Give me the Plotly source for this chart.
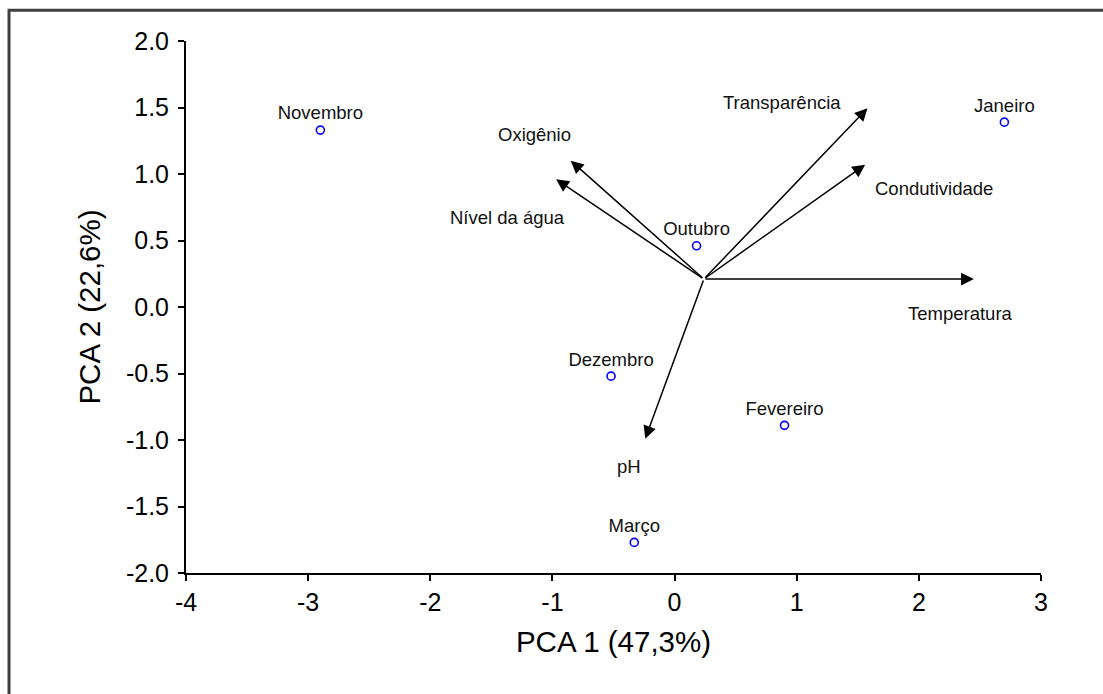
import plotly.graph_objects as go

# Sample scores (months)
months = ["Novembro", "Janeiro", "Outubro", "Dezembro", "Fevereiro", "Março"]
pc1_scores = [-2.90, 2.70, 0.18, -0.52, 0.90, -0.33]
pc2_scores = [1.33, 1.39, 0.46, -0.52, -0.89, -1.77]

# Variable vectors (loadings)
variables = ["Transparência", "Condutividade", "Temperatura", "Oxigênio", "Nível da água", "pH"]
origin = (0.24, 0.21)
vec_x = [1.58, 1.56, 2.45, -0.85, -0.97, -0.24]
vec_y = [1.495, 1.07, 0.21, 1.10, 0.96, -0.99]
label_x = [0.88, 2.12, 2.34, -1.15, -1.37, -0.37]
label_y = [1.54, 0.89, -0.05, 1.30, 0.67, -1.20]

x_ticks = [-4, -3, -2, -1, 0, 1, 2, 3]
x_ticktext = ["-4", "-3", "-2", "-1", "0", "1", "2", "3"]
y_ticks = [-2.0, -1.5, -1.0, -0.5, 0.0, 0.5, 1.0, 1.5, 2.0]
y_ticktext = ["-2.0", "-1.5", "-1.0", "-0.5", "0.0", "0.5", "1.0", "1.5", "2.0"]

FONT = "Arial, Liberation Sans, sans-serif"

fig = go.Figure()
fig.add_trace(go.Scatter(
    x=pc1_scores, y=pc2_scores, mode="markers+text",
    text=months, textposition="top center",
    textfont=dict(family=FONT, size=18.5, color="#111111"),
    marker=dict(symbol="circle-open", size=8, color="#0000ff", line=dict(width=1.6, color="#0000ff")),
    showlegend=False, hoverinfo="skip", cliponaxis=False,
))

annotations = []
for v, xv, yv in zip(variables, vec_x, vec_y):
    annotations.append(dict(
        x=xv, y=yv, ax=origin[0], ay=origin[1],
        xref="x", yref="y", axref="x", ayref="y",
        showarrow=True, arrowhead=2, arrowsize=1.7, arrowwidth=1.5,
        arrowcolor="#000000", text="",
    ))
for v, lx, ly in zip(variables, label_x, label_y):
    annotations.append(dict(
        x=lx, y=ly, xref="x", yref="y", text=v, showarrow=False,
        font=dict(family=FONT, size=18.5, color="#111111"),
    ))

fig.update_layout(
    width=1103, height=694,
    margin=dict(l=186, r=62, t=41, b=121),
    paper_bgcolor="white", plot_bgcolor="white",
    annotations=annotations,
    font=dict(family=FONT, color="#000000"),
    shapes=[dict(type="rect", xref="paper", yref="paper",
                 x0=-0.207, x1=1.3, y0=-0.4, y1=1.058,
                 line=dict(color="#404040", width=3), layer="below")],
)
fig.update_xaxes(
    range=[-4, 3], tickvals=x_ticks, ticktext=x_ticktext,
    showgrid=False, zeroline=False, showline=True, linecolor="black", linewidth=2,
    ticks="outside", ticklen=6, tickwidth=1.5, tickcolor="black",
    tickfont=dict(family=FONT, size=25, color="#000000"),
    title=dict(text="PCA 1 (47,3%)", font=dict(family=FONT, size=29.5, color="#000000"), standoff=16),
)
fig.update_yaxes(
    range=[-2, 2], tickvals=y_ticks, ticktext=y_ticktext,
    showgrid=False, zeroline=False, showline=True, linecolor="black", linewidth=2,
    ticks="outside", ticklen=6, tickwidth=1.5, tickcolor="black", ticklabelstandoff=4,
    tickfont=dict(family=FONT, size=25, color="#000000"),
    title=dict(text="PCA 2 (22,6%)", font=dict(family=FONT, size=29.5, color="#000000"), standoff=17),
)

fig.write_html("out.html")
